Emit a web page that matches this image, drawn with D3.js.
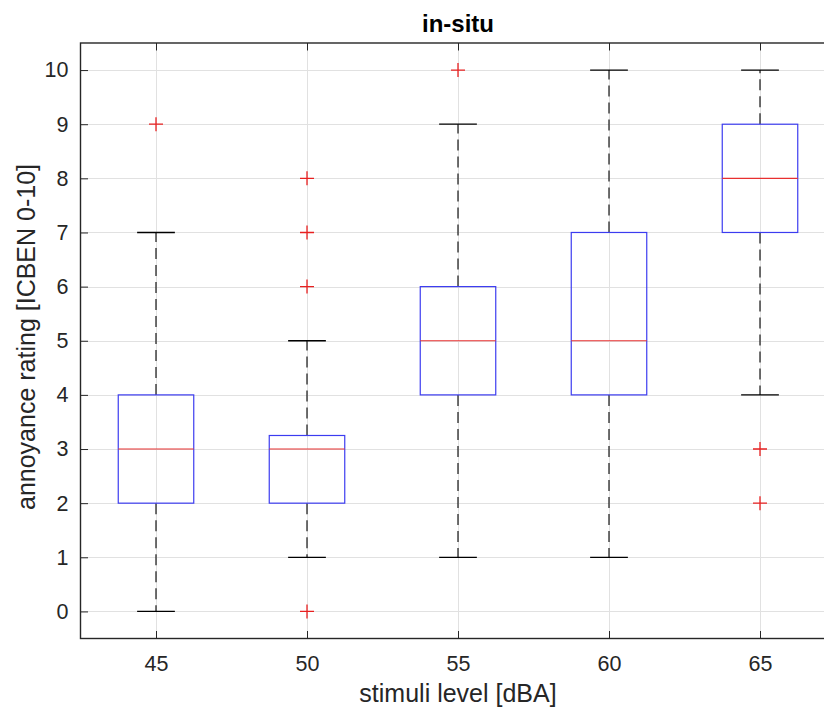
<!DOCTYPE html>
<html>
<head>
<meta charset="utf-8">
<script src="https://cdn.jsdelivr.net/npm/d3@7"></script>
<style>
  html, body { margin: 0; padding: 0; background: #fff; }
  svg { display: block; font-family: "Liberation Sans", Arial, sans-serif; }
</style>
</head>
<body>
<svg id="chart" width="824" height="711"></svg>
<script>
// Stimulus levels (dBA) and the box statistics of the annoyance ratings
const categories = ["45", "50", "55", "60", "65"];
const whiskerLow  = [0, 1, 1, 1, 4];
const quartile1   = [2, 2, 4, 4, 7];
const medians     = [3, 3, 5, 5, 8];
const quartile3   = [4, 3.25, 6, 7, 9];
const whiskerHigh = [7, 5, 9, 10, 10];
const outliers    = [[9], [0, 6, 7, 8], [10], [], [3, 2]];
const yTicks = [0, 1, 2, 3, 4, 5, 6, 7, 8, 9, 10];

const svg = d3.select("#chart");
const plotLeft = 80.5, plotRight = 835.5, plotTop = 43, plotBottom = 638.5;

const x = d3.scaleLinear().domain([0.5, categories.length + 0.5]).range([plotLeft, plotRight]);
const y = d3.scaleLinear().domain([-0.5, 10.5]).range([plotBottom, plotTop]);

const boxHalf = 0.25, capHalf = 0.125;
const axisColor = "#262626";
const tickLen = 7.5;

// grid
const grid = svg.append("g").attr("stroke", "#e1e1e1").attr("stroke-width", 1);
yTicks.forEach(t => {
  grid.append("line").attr("x1", plotLeft).attr("x2", plotRight)
    .attr("y1", Math.round(y(t)) + 0.5).attr("y2", Math.round(y(t)) + 0.5);
});
categories.forEach((c, i) => {
  grid.append("line").attr("y1", plotTop).attr("y2", plotBottom)
    .attr("x1", Math.round(x(i + 1)) + 0.5).attr("x2", Math.round(x(i + 1)) + 0.5);
});

// boxes
const boxes = svg.append("g");
categories.forEach((c, i) => {
  const cx = x(i + 1);
  const g = boxes.append("g");
  // whiskers (dashed)
  g.append("line").attr("x1", cx).attr("x2", cx)
    .attr("y1", y(quartile3[i])).attr("y2", y(whiskerHigh[i]))
    .attr("stroke", "#000").attr("stroke-width", 1.1).attr("stroke-dasharray", "11,6");
  g.append("line").attr("x1", cx).attr("x2", cx)
    .attr("y1", y(quartile1[i])).attr("y2", y(whiskerLow[i]))
    .attr("stroke", "#000").attr("stroke-width", 1.1).attr("stroke-dasharray", "11,6");
  // whisker caps
  [whiskerHigh[i], whiskerLow[i]].forEach(v => {
    g.append("line").attr("x1", x(i + 1 - capHalf)).attr("x2", x(i + 1 + capHalf))
      .attr("y1", y(v)).attr("y2", y(v))
      .attr("stroke", "#000").attr("stroke-width", 1.3);
  });
  // box
  g.append("rect")
    .attr("x", x(i + 1 - boxHalf)).attr("width", x(i + 1 + boxHalf) - x(i + 1 - boxHalf))
    .attr("y", y(quartile3[i])).attr("height", y(quartile1[i]) - y(quartile3[i]))
    .attr("fill", "none").attr("stroke", "#3c3cf0").attr("stroke-width", 1.2);
  // median
  g.append("line").attr("x1", x(i + 1 - boxHalf)).attr("x2", x(i + 1 + boxHalf))
    .attr("y1", y(medians[i])).attr("y2", y(medians[i]))
    .attr("stroke", "#e83030").attr("stroke-width", 1.2);
  // outliers
  outliers[i].forEach(v => {
    const s = 7;
    g.append("path")
      .attr("d", `M${cx - s},${y(v)}H${cx + s}M${cx},${y(v) - s}V${y(v) + s}`)
      .attr("stroke", "#e82020").attr("stroke-width", 1.3).attr("fill", "none");
  });
});

// axes
function styleAxis(g) {
  g.select(".domain").remove();
  g.selectAll(".tick line").attr("stroke", axisColor).attr("stroke-width", 1);
  g.selectAll(".tick text").attr("fill", axisColor).attr("font-size", "21.5px")
    .attr("font-family", "'Liberation Sans', Arial, sans-serif");
}
const xAxis = d3.axisBottom(x).tickValues(categories.map((c, i) => i + 1))
  .tickFormat((d, i) => categories[i]).tickSize(-tickLen).tickPadding(17);
svg.append("g").attr("transform", `translate(0,${plotBottom})`).call(xAxis).call(styleAxis);

const xAxisTop = d3.axisTop(x).tickValues(categories.map((c, i) => i + 1))
  .tickFormat("").tickSize(-tickLen);
svg.append("g").attr("transform", `translate(0,${plotTop})`).call(xAxisTop).call(styleAxis);

const yAxis = d3.axisLeft(y).tickValues(yTicks).tickFormat(d3.format("d"))
  .tickSize(-tickLen).tickPadding(12);
svg.append("g").attr("transform", `translate(${plotLeft},0)`).call(yAxis).call(styleAxis);

const yAxisRight = d3.axisRight(y).tickValues(yTicks).tickFormat("").tickSize(-tickLen);
svg.append("g").attr("transform", `translate(${plotRight},0)`).call(yAxisRight).call(styleAxis);

// frame
svg.append("rect").attr("x", plotLeft).attr("y", plotTop)
  .attr("width", plotRight - plotLeft).attr("height", plotBottom - plotTop)
  .attr("fill", "none").attr("stroke", axisColor).attr("stroke-width", 1.4);

// titles
svg.append("text").attr("x", (plotLeft + plotRight) / 2).attr("y", 32)
  .attr("text-anchor", "middle").attr("font-size", "24px").attr("font-weight", "bold")
  .attr("fill", "#000").text("in-situ");
svg.append("text").attr("x", (plotLeft + plotRight) / 2).attr("y", 702)
  .attr("text-anchor", "middle").attr("font-size", "25px").attr("fill", axisColor)
  .text("stimuli level [dBA]");
svg.append("text").attr("transform", `translate(35,337) rotate(-90)`)
  .attr("text-anchor", "middle").attr("font-size", "25px").attr("fill", axisColor)
  .text("annoyance rating [ICBEN 0-10]");
</script>
</body>
</html>
